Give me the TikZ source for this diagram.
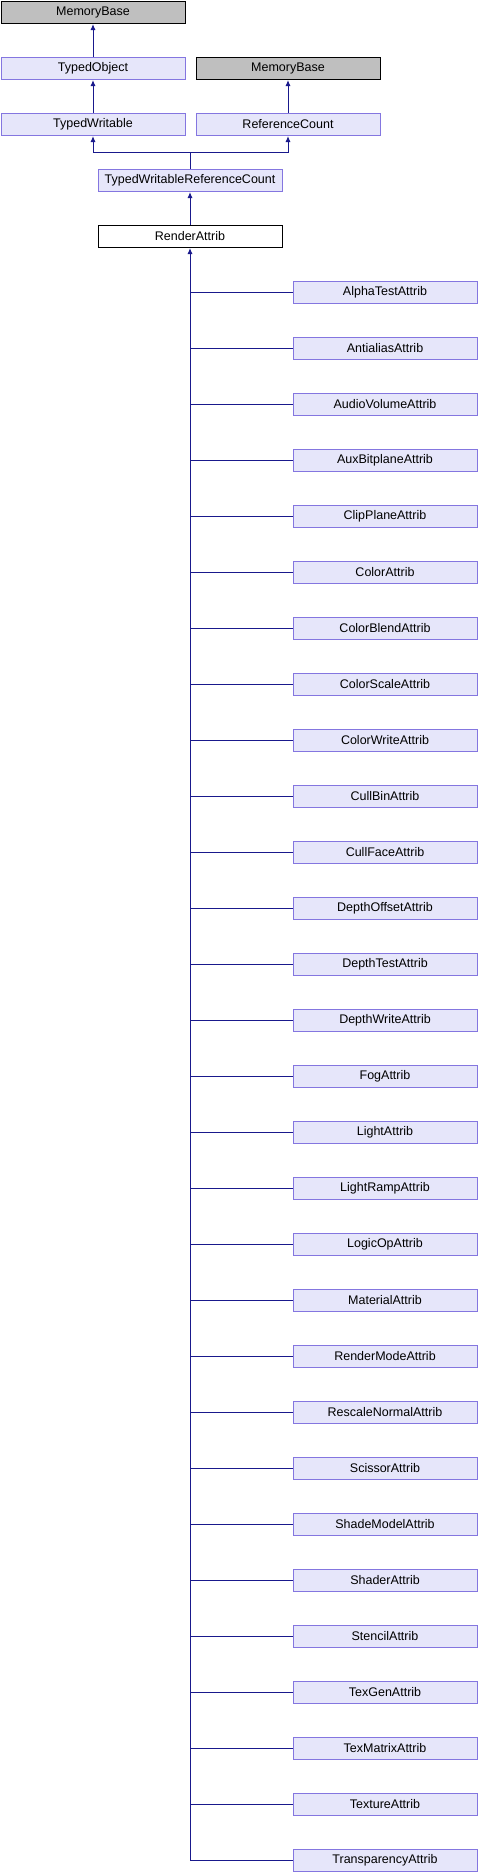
\documentclass[tikz,border=0pt]{standalone}
\usepackage{fontspec}
\setmainfont{Liberation Sans}
\usetikzlibrary{arrows.meta}
\definecolor{boxfill}{RGB}{230,230,250}
\definecolor{boxline}{RGB}{132,118,224}
\definecolor{grayfill}{RGB}{191,191,191}
\definecolor{edgecol}{RGB}{25,25,140}
\tikzset{
  cls/.style={draw=boxline, fill=boxfill, line width=1pt, minimum width=184pt, minimum height=22.5pt, inner sep=0pt, anchor=north west, font=\fontsize{12.5}{15}\selectfont},
  ext/.style={cls, draw=black, fill=grayfill},
  cur/.style={cls, draw=black, fill=white},
  edge/.style={draw=edgecol, line width=1pt},
  inh/.style={edge, -{Latex[length=6pt,width=5pt]}}
}
\begin{document}
\begin{tikzpicture}[x=1pt,y=-1pt]
\useasboundingbox (0,0) rectangle (477,1872);
\node[ext] (mb1) at (0.5,0.5) {MemoryBase};
\node[cls] (to) at (0.5,56.5) {TypedObject};
\node[ext] (mb2) at (195.5,56.5) {MemoryBase};
\node[cls] (tw) at (0.5,112.5) {TypedWritable};
\node[cls] (rc) at (195.5,112.5) {ReferenceCount};
\node[cls] (twrc) at (97.5,168.5) {TypedWritableReferenceCount};
\node[cur] (ra) at (97.5,224.5) {RenderAttrib};
\draw[inh] (to.north) -- (mb1.south);
\draw[inh] (tw.north) -- (to.south);
\draw[inh] (rc.north) -- (mb2.south);
\path (twrc.north) ++(0,-15.8) coordinate (jc);
\draw[edge] (twrc.north) -- (jc);
\draw[inh] (jc) -| (tw.south);
\draw[inh] (jc) -| (rc.south);
\draw[inh] (ra.north) -- (twrc.south);
\foreach [count=\i] \n in {AlphaTestAttrib, AntialiasAttrib, AudioVolumeAttrib, AuxBitplaneAttrib, ClipPlaneAttrib, ColorAttrib, ColorBlendAttrib, ColorScaleAttrib, ColorWriteAttrib, CullBinAttrib, CullFaceAttrib, DepthOffsetAttrib, DepthTestAttrib, DepthWriteAttrib, FogAttrib, LightAttrib, LightRampAttrib, LogicOpAttrib, MaterialAttrib, RenderModeAttrib, RescaleNormalAttrib, ScissorAttrib, ShadeModelAttrib, ShaderAttrib, StencilAttrib, TexGenAttrib, TexMatrixAttrib, TextureAttrib, TransparencyAttrib} {
  \node[cls] (c\i) at (292.5,{280.5+56*(\i-1)}) {\n};
  \coordinate (b\i) at (ra.south |- c\i.west);
  \draw[edge] (c\i.west) -- (b\i);
}
\draw[inh] (b29) -- (ra.south);
\end{tikzpicture}
\end{document}
